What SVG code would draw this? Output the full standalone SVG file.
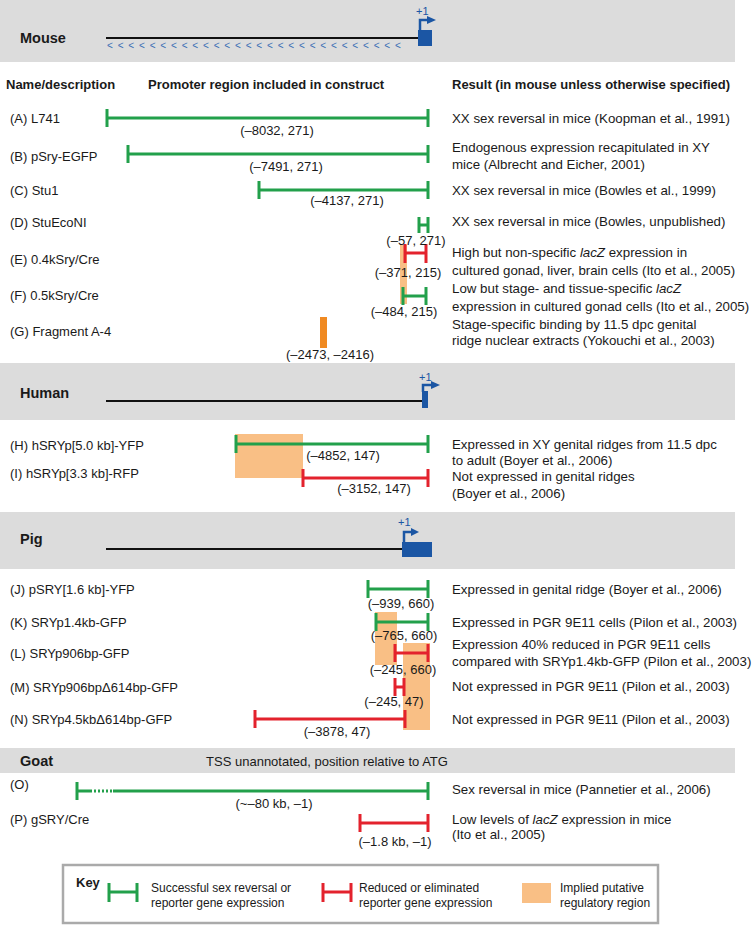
<svg xmlns="http://www.w3.org/2000/svg" width="755" height="926" viewBox="0 0 755 926">
<style>
text{font-family:"Liberation Sans",Arial,sans-serif;font-size:13px;fill:#1a1a1a}
.sp{font-size:14.5px;font-weight:bold}
.hd{font-weight:bold}
.res{font-size:13.3px}
.lb{text-anchor:middle}
.band{fill:#dcdcdc}
.blue{fill:#1b56a4}
.bl{stroke:#1b56a4;stroke-width:2.5;fill:none}
.gl{stroke:#111;stroke-width:2;fill:none}
.g{stroke:#22a04b;stroke-width:3;fill:none}
.r{stroke:#e3222d;stroke-width:3;fill:none}
.o{fill:#f9bf85}
.od{fill:#f08a22}
.one{font-size:11px;fill:#1b56a4}
.chev{font-size:10px;fill:#3a6fb5}
.key{font-size:12px}
</style>

<g id="bands">
<rect class="band" x="0" y="0" width="735" height="62"/>
<rect class="band" x="0" y="363" width="735" height="57"/>
<rect class="band" x="0" y="512" width="735" height="57"/>
<rect class="band" x="0" y="748" width="735" height="25"/>
</g>

<g id="mouse-gene">
<text class="sp" x="20" y="43">Mouse</text>
<line class="gl" x1="106" y1="38" x2="419" y2="38"/>
<rect class="blue" x="418" y="30" width="14" height="16"/>
<polyline class="bl" points="420,31 420,20 428,20"/>
<polygon class="blue" points="427,16 436,20 427,24"/>
<text class="one" x="416" y="15">+1</text>
<text class="chev" x="107 117.7 128.3 139 149.7 160.3 171 181.7 192.3 203 213.7 224.3 235 245.7 256.3 267 277.7 288.3 299 309.7 320.3 331 341.7 352.3 363 373.7 384.3 395" y="49">&lt;&lt;&lt;&lt;&lt;&lt;&lt;&lt;&lt;&lt;&lt;&lt;&lt;&lt;&lt;&lt;&lt;&lt;&lt;&lt;&lt;&lt;&lt;&lt;&lt;&lt;&lt;&lt;</text>
</g>

<g id="headers">
<text class="hd" x="6" y="89">Name/description</text>
<text class="hd" x="148" y="89">Promoter region included in construct</text>
<text class="hd" x="452" y="89" font-size="13.3">Result (in mouse unless otherwise specified)</text>
</g>

<g id="regions">
<rect class="o" x="400" y="245" width="7" height="59"/>
<rect class="od" x="320" y="317" width="7" height="31"/>
<rect class="o" x="235" y="434" width="68" height="44"/>
<rect class="o" x="375" y="612" width="22" height="53"/>
<rect class="o" x="403" y="643" width="27" height="87"/>
</g>

<g id="connectors">
<path id="barA" class="g" d="M107 109V127M107 118H428M428 109V127"/>
<path id="barB" class="g" d="M128 145V163M128 154H428M428 145V163"/>
<path id="barC" class="g" d="M259 181V199M259 190H428M428 181V199"/>
<path id="barD" class="g" d="M419 217V233M419 225H428M428 217V233"/>
<path id="barE" class="r" d="M405 244V263M405 253H426M426 244V263"/>
<path id="barF" class="g" d="M403 287V305M403 296H426M426 287V305"/>
<path id="barH" class="g" d="M236 435V453M236 444H428M428 435V453"/>
<path id="barI" class="r" d="M303 469V487M303 478H428M428 469V487"/>
<path id="barJ" class="g" d="M368 580V598M368 589H428M428 580V598"/>
<path id="barK" class="g" d="M376 613V631M376 622H428M428 613V631"/>
<path id="barL" class="r" d="M395 644V662M395 653H428M428 644V662"/>
<path id="barM" class="r" d="M395 678V696M395 687H404M404 678V696"/>
<path id="barN" class="r" d="M255 710V728M255 719H405M405 710V728"/>
<path id="barO" class="g" d="M77 782V800M77 791H90M113 791H428M428 782V800"/>
<line class="g" x1="90" y1="791" x2="113" y2="791" stroke-width="2" stroke-dasharray="2,2"/>
<path id="barP" class="r" d="M360 814V832M360 823H428M428 814V832"/>
</g>

<g id="rowA"><text x="10" y="123">(A) L741</text><text class="lb" x="277" y="135">(–8032, 271)</text><text class="res" x="452" y="123">XX sex reversal in mice (Koopman et al., 1991)</text></g>
<g id="rowB"><text x="10" y="161">(B) pSry-EGFP</text><text class="lb" x="286" y="171">(–7491, 271)</text><text class="res" x="452" y="152">Endogenous expression recapitulated in XY</text><text class="res" x="452" y="169">mice (Albrecht and Eicher, 2001)</text></g>
<g id="rowC"><text x="10" y="195">(C) Stu1</text><text class="lb" x="347" y="205">(–4137, 271)</text><text class="res" x="452" y="195">XX sex reversal in mice (Bowles et al., 1999)</text></g>
<g id="rowD"><text x="10" y="227">(D) StuEcoNI</text><text class="lb" x="416" y="245">(–57, 271)</text><text class="res" x="452" y="226">XX sex reversal in mice (Bowles, unpublished)</text></g>
<g id="rowE"><text x="10" y="264">(E) 0.4kSry/Cre</text><text class="lb" x="408" y="277">(–371, 215)</text><text class="res" x="452" y="257">High but non-specific <tspan font-style="italic">lacZ</tspan> expression in</text><text class="res" x="452" y="275">cultured gonad, liver, brain cells (Ito et al., 2005)</text></g>
<g id="rowF"><text x="10" y="300">(F) 0.5kSry/Cre</text><text class="lb" x="404" y="316">(–484, 215)</text><text class="res" x="452" y="293">Low but stage- and tissue-specific <tspan font-style="italic">lacZ</tspan></text><text class="res" x="452" y="311">expression in cultured gonad cells (Ito et al., 2005)</text></g>
<g id="rowG"><text x="10" y="336">(G) Fragment A-4</text><text class="lb" x="330" y="359">(–2473, –2416)</text><text class="res" x="452" y="329">Stage-specific binding by 11.5 dpc genital</text><text class="res" x="452" y="345">ridge nuclear extracts (Yokouchi et al., 2003)</text></g>

<g id="human-gene">
<text class="sp" x="20" y="398">Human</text>
<line class="gl" x1="106" y1="401" x2="423" y2="401"/>
<rect class="blue" x="422" y="391" width="6" height="17"/>
<polyline class="bl" points="423,392 423,385 432,385"/>
<polygon class="blue" points="431,381 440,385 431,389"/>
<text class="one" x="419" y="381">+1</text>
</g>
<g id="rowH"><text x="10" y="450">(H) hSRYp[5.0 kb]-YFP</text><text class="lb" x="343" y="460">(–4852, 147)</text><text class="res" x="452" y="449">Expressed in XY genital ridges from 11.5 dpc</text><text class="res" x="452" y="465">to adult (Boyer et al., 2006)</text></g>
<g id="rowI"><text x="10" y="478">(I) hSRYp[3.3 kb]-RFP</text><text class="lb" x="374" y="493">(–3152, 147)</text><text class="res" x="452" y="481">Not expressed in genital ridges</text><text class="res" x="452" y="498">(Boyer et al., 2006)</text></g>

<g id="pig-gene">
<text class="sp" x="20" y="544">Pig</text>
<line class="gl" x1="106" y1="549" x2="403" y2="549"/>
<rect class="blue" x="402" y="542" width="30" height="15"/>
<polyline class="bl" points="404,543 404,532 412,532"/>
<polygon class="blue" points="411,528 419,532 411,536"/>
<text class="one" x="398" y="526">+1</text>
</g>
<g id="rowJ"><text x="10" y="594">(J) pSRY[1.6 kb]-YFP</text><text class="lb" x="401" y="608">(–939, 660)</text><text class="res" x="452" y="594">Expressed in genital ridge (Boyer et al., 2006)</text></g>
<g id="rowK"><text x="10" y="627">(K) SRYp1.4kb-GFP</text><text class="lb" x="404" y="640">(–765, 660)</text><text class="res" x="452" y="627">Expressed in PGR 9E11 cells (Pilon et al., 2003)</text></g>
<g id="rowL"><text x="10" y="658">(L) SRYp906bp-GFP</text><text class="lb" x="403" y="674">(–245, 660)</text><text class="res" x="452" y="649">Expression 40% reduced in PGR 9E11 cells</text><text class="res" x="452" y="666">compared with SRYp1.4kb-GFP (Pilon et al., 2003)</text></g>
<g id="rowM"><text x="10" y="692">(M) SRYp906bpΔ614bp-GFP</text><text class="lb" x="394" y="706">(–245, 47)</text><text class="res" x="452" y="691">Not expressed in PGR 9E11 (Pilon et al., 2003)</text></g>
<g id="rowN"><text x="10" y="724">(N) SRYp4.5kbΔ614bp-GFP</text><text class="lb" x="337" y="736">(–3878, 47)</text><text class="res" x="452" y="724">Not expressed in PGR 9E11 (Pilon et al., 2003)</text></g>

<g id="goat-head">
<text class="sp" x="20" y="766">Goat</text>
<text class="lb" x="327" y="766">TSS unannotated, position relative to ATG</text>
</g>
<g id="rowO"><text x="10" y="789">(O)</text><text class="lb" x="274" y="808">(~–80 kb, –1)</text><text class="res" x="452" y="794">Sex reversal in mice (Pannetier et al., 2006)</text></g>
<g id="rowP"><text x="10" y="824">(P) gSRY/Cre</text><text class="lb" x="395" y="846">(–1.8 kb, –1)</text><text class="res" x="452" y="824">Low levels of <tspan font-style="italic">lacZ</tspan> expression in mice</text><text class="res" x="452" y="839">(Ito et al., 2005)</text></g>

<g id="key">
<rect x="63" y="865" width="595" height="58" fill="#fff" stroke="#aaa" stroke-width="2.5"/>
<text class="hd" x="76" y="887" font-size="11.5">Key</text>
<path class="g" d="M109 883V902M109 892H137M137 883V902"/>
<text class="key" x="151" y="892">Successful sex reversal or</text>
<text class="key" x="151" y="907">reporter gene expression</text>
<path class="r" d="M323 883V902M323 892H351M351 883V902"/>
<text class="key" x="359" y="892">Reduced or eliminated</text>
<text class="key" x="359" y="907">reporter gene expression</text>
<rect class="o" x="522" y="883" width="29" height="20"/>
<text class="key" x="560" y="892">Implied putative</text>
<text class="key" x="560" y="907">regulatory region</text>
</g>
</svg>
